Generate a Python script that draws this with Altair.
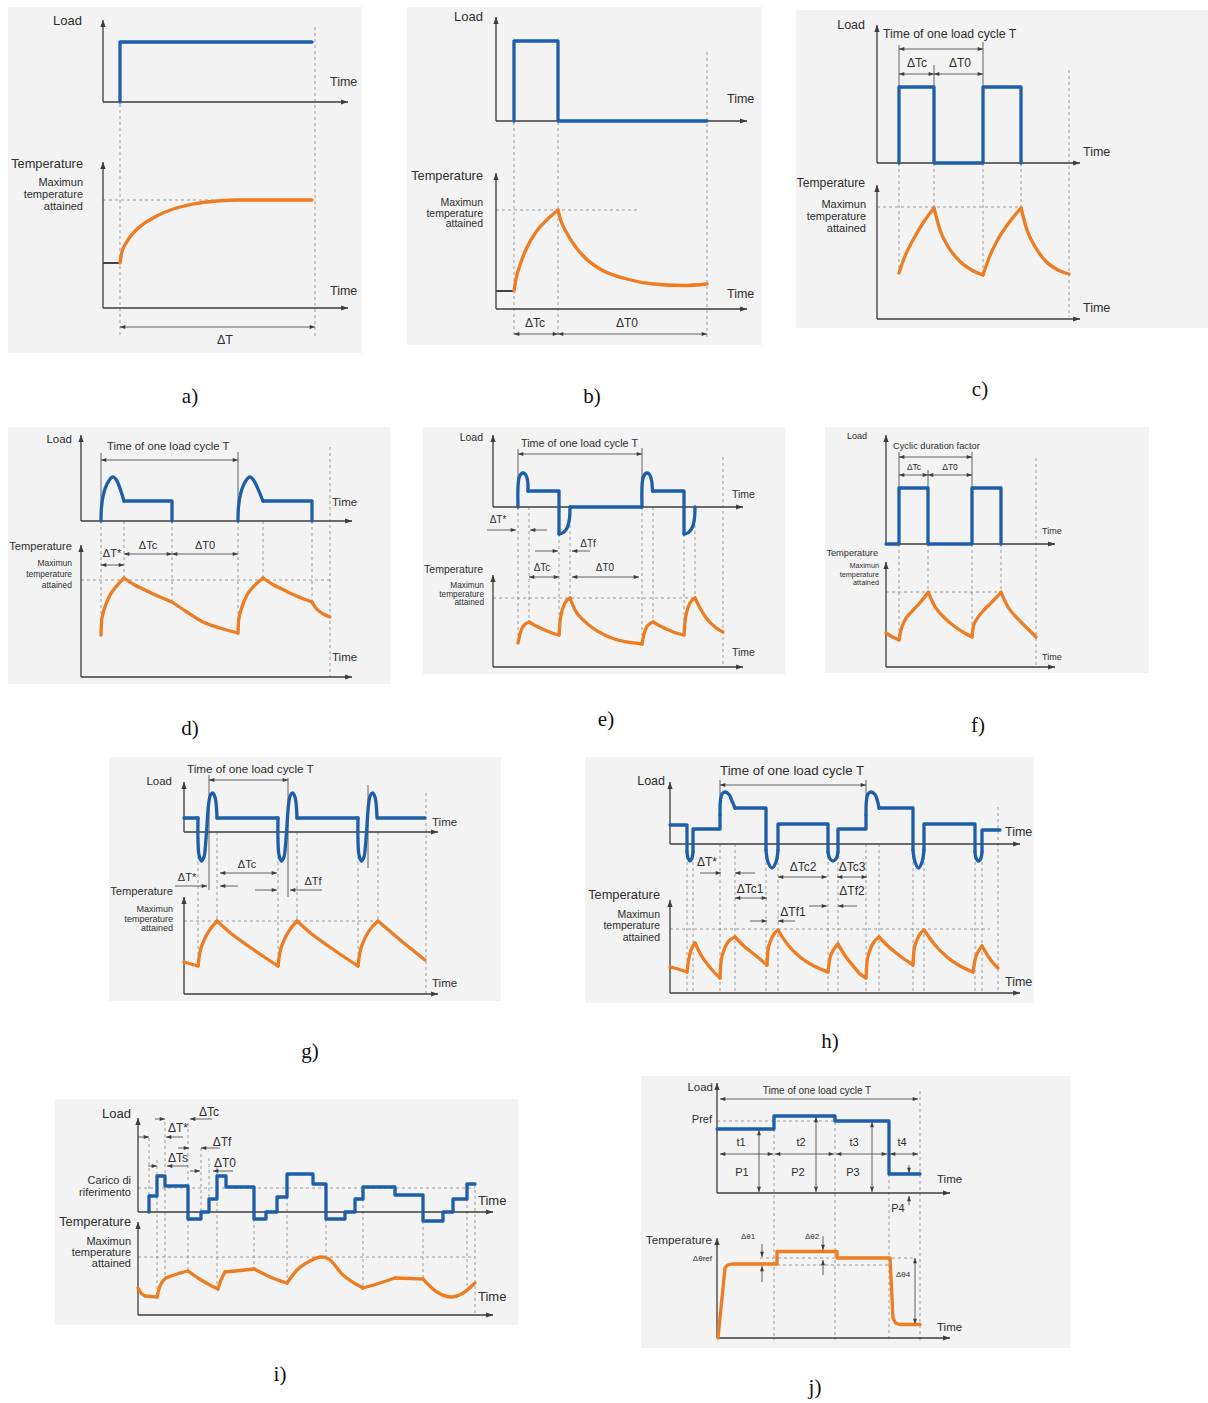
import altair as alt
import pandas as pd

W, H = 1208, 1403

BLUE = "#1d5ea9"
ORANGE = "#ee7c22"
INK = "#3c3c3c"
TEXT = "#2e2e2e"
GUIDE = "#858585"
PANEL_FILL = "#f3f3f3"
SANS = "Liberation Sans"
SERIF = "Liberation Serif"
ARROW = "M0,0L-2,-0.75L-2,0.75Z"   # arrowhead with its tip on the anchor point

# Figure frame: x to the right, y downward, one unit per pixel.
FRAMES = [(8, 7, 362, 353), (407, 7, 762, 345), (796, 10, 1208, 328),
          (8, 427, 390, 684), (423, 427, 785, 674), (825, 427, 1149, 673),
          (109, 757, 501, 1001), (585, 757, 1034, 1003),
          (55, 1099, 518, 1325), (641, 1076, 1070, 1348)]
CAPTIONS = [("a)", 190, 397), ("b)", 592, 397), ("c)", 980, 390),
            ("d)", 190, 729), ("e)", 606, 720), ("f)", 978, 726),
            ("g)", 310, 1052), ("h)", 830, 1042), ("i)", 280, 1375), ("j)", 815, 1388)]
# (origin x, load baseline, load top, temperature baseline, temperature top, right end)
AXES = [(103, 102, 20, 308, 162, 348), (496, 121, 17, 309, 173, 747),
        (877, 163, 25, 319, 185, 1080), (81, 521, 435, 677, 545, 352),
        (493, 507, 435, 667, 575, 743), (886, 544, 435, 667, 562, 1055),
        (184, 832, 782, 994, 897, 438), (670, 844, 782, 993, 900, 1020),
        (138, 1212, 1118, 1315, 1222, 493), (717, 1193, 1083, 1338, 1238, 950)]

# ---------------- a) continuous duty ----------------
A_LOAD = [(120, 102), (120, 42), (312, 42)]
A_TEMP = [[(120, 263), (121.7, 253), (126.7, 242), (133.3, 233), (143.3, 224), (156.7, 216),
           (173.3, 209), (193.3, 204), (216.7, 201), (240, 200), (312, 200)]]
A_STUB = [(103, 120, 263)]
A_VGUIDE = [(120, 104, 338), (315, 27, 338)]
A_HGUIDE = [(200, 103, 312)]
A_DIMS = [(327, 120, 315)]
A_TEXT = [(82, 21, "Load", 13, "r"), (330, 82, "Time", 12.5, "l"),
          (83, 164, "Temperature", 12.8, "r"), (83, 183, "Maximun", 11, "r"),
          (83, 195, "temperature", 11, "r"), (83, 207, "attained", 11, "r"),
          (330, 291, "Time", 12.5, "l"), (225, 340, "ΔT", 12.5, "c")]

# ---------------- b) short-time duty ----------------
B_LOAD = [(514, 121), (514, 41), (558, 41), (558, 121), (707, 121)]
B_TEMP = [[(514, 291), (516, 279), (520, 265), (526.7, 248), (536.7, 231), (546.7, 220), (558, 210)],
          [(558, 210), (561, 221), (566.7, 233), (575, 246), (583.3, 256), (600, 269),
           (626.7, 279), (653.3, 284), (683.3, 285.5), (707, 284)]]
B_STUB = [(496, 514, 291)]
B_VGUIDE = [(514, 122, 337), (558, 122, 337), (707, 52, 337)]
B_HGUIDE = [(210, 496, 640)]
B_DIMS = [(334, 514, 558), (334, 558, 707)]
B_TEXT = [(483, 17, "Load", 13, "r"), (727, 99, "Time", 12.5, "l"),
          (483, 176, "Temperature", 12.8, "r"), (483, 203, "Maximun", 10.5, "r"),
          (483, 214, "temperature", 10.5, "r"), (483, 224, "attained", 10.5, "r"),
          (727, 294, "Time", 12.5, "l"), (535, 323, "ΔTc", 12, "c"), (627, 323, "ΔT0", 12, "c")]

# ---------------- c) intermittent periodic duty ----------------
C_LOAD = [(899, 163), (899, 87), (934, 87), (934, 163), (983, 163), (983, 87), (1021, 87), (1021, 163)]
C_TEMP = [[(899, 273), (905, 256), (913, 240), (923, 223), (934, 208)],
          [(934, 208), (940, 230), (948, 246.5), (960, 261.5), (971.5, 270), (983, 275)],
          [(983, 275), (989, 258), (997, 241), (1008, 224), (1021, 208)],
          [(1021, 208), (1027, 230), (1035, 246.5), (1046, 261.5), (1058, 270), (1069, 274)]]
C_EXT = [(899, 45, 87), (934, 65, 87), (983, 42, 87)]
C_VGUIDE = [(899, 163, 273), (934, 163, 207), (983, 163, 275), (1021, 163, 207), (1069, 70, 317)]
C_HGUIDE = [(207, 877, 1021)]
C_DIMS = [(49, 899, 983), (74, 899, 934), (74, 934, 983)]
C_TEXT = [(865, 25, "Load", 12.5, "r"), (883, 34, "Time of one load cycle T", 12.3, "l"),
          (917, 63, "ΔTc", 12, "c"), (960, 63, "ΔT0", 12, "c"), (1083, 152, "Time", 12.5, "l"),
          (865, 183, "Temperature", 12.2, "r"), (866, 205, "Maximun", 11, "r"),
          (866, 217, "temperature", 11, "r"), (866, 229, "attained", 11, "r"),
          (1083, 308, "Time", 12.5, "l")]

# ---------------- d) periodic duty with starting ----------------
D_LOAD = [[(124, 501), (172, 501), (172, 521)], [(263, 501), (312, 501), (312, 521)]]
D_LOAD_ROUND = [[(101, 521), (101.5, 507), (103.5, 494), (107, 484), (111, 478), (113.5, 477), (116.5, 480), (124, 501)],
                [(238, 521), (238.5, 507), (240.5, 494), (244, 484), (248, 478), (250.5, 477), (253.5, 480), (263, 501)]]
D_TEMP = [[(101, 635), (101.7, 620), (105, 607), (110, 595), (116.7, 586), (124, 578)],
          [(124, 578), (133, 584), (147, 591), (160, 597), (172, 602)],
          [(172, 602), (187, 612), (203, 622), (220, 628), (238, 633)],
          [(238, 633), (238.7, 620), (242, 607), (247, 595), (254, 586), (263, 578)],
          [(263, 578), (272, 584), (286, 591), (299, 597), (312, 602)],
          [(312, 602), (316.7, 609), (323.3, 614), (330, 617)]]
D_EXT = [(101, 453, 521), (238, 452, 521)]
D_VGUIDE = [(101, 521, 633), (124, 521, 578), (172, 521, 602), (238, 521, 633),
            (263, 521, 578), (312, 521, 602), (330, 447, 677)]
D_HGUIDE = [(580, 81, 330)]
D_DIMS = [(460, 101, 238), (565, 101, 124), (554, 124, 172), (554, 172, 238)]
D_TEXT = [(72, 440, "Load", 11.5, "r"), (107, 447, "Time of one load cycle T", 11.3, "l"),
          (332, 503, "Time", 11.5, "l"), (72, 547, "Temperature", 11.2, "r"),
          (112, 554, "ΔT*", 11, "c"), (148, 546, "ΔTc", 11, "c"), (205, 546, "ΔT0", 11, "c"),
          (72, 563, "Maximun", 8.5, "r"), (72, 574, "temperature", 8.5, "r"),
          (72, 585, "attained", 8.5, "r"), (332, 658, "Time", 11.5, "l")]

# ---------------- e) periodic duty with starting and braking ----------------
E_LOAD = [[(528, 491), (559, 491), (559, 534)], [(570, 507), (642, 507)],
          [(652.5, 491), (684, 491), (684, 534)]]
E_LOAD_ROUND = [[(518, 507), (518, 487), (519, 478), (521, 474), (523, 473), (525.5, 474.5), (527.5, 480), (528, 491)],
                [(559, 534), (563.5, 532.5), (567.5, 527), (569.5, 518), (570, 507)],
                [(642, 507), (642, 487), (643, 478), (645, 474), (647, 473), (649.5, 474.5), (651.5, 480), (652.5, 491)],
                [(684, 534), (688.5, 532.5), (692.5, 527), (694.5, 518), (695, 507)]]
E_TEMP = [[(518, 643), (520.3, 633), (523.3, 626), (529, 622)],
          [(529, 622), (536, 626), (545, 630), (552, 633), (559, 635)],
          [(559, 635), (560, 622), (562, 611), (565, 603), (570, 598)],
          [(570, 598), (575, 610), (585, 621.7), (598.3, 631.7), (615, 639.3), (631.7, 642.7), (642, 644)],
          [(642, 644), (644.3, 633), (647.3, 626), (653, 622)],
          [(653, 622), (660, 626), (669, 630), (676, 633), (684, 635)],
          [(684, 635), (685, 622), (687, 611), (690, 603), (695, 598)],
          [(695, 598), (700, 608), (707, 619), (715, 627), (723, 632)]]
E_EXT = [(518, 449, 487), (642, 448, 487)]
E_VGUIDE = [(518, 507, 643), (529, 507, 622), (559, 534, 635), (570, 507, 598), (642, 507, 644),
            (653, 507, 622), (684, 534, 635), (695, 507, 598), (723, 457, 667)]
E_HGUIDE = [(598, 493, 695)]
E_DIMS = [(454, 518, 642), (577, 529, 559), (577, 572, 639)]
E_POINTERS = [(530, 487, 516), (530, 547, 530), (551, 535, 558), (551, 590, 572)]
E_TEXT = [(483, 438, "Load", 10.5, "r"), (521, 444, "Time of one load cycle T", 10.8, "l"),
          (732, 495, "Time", 10.5, "l"), (498, 520, "ΔT*", 10, "c"), (588, 544, "ΔTf", 10, "c"),
          (542, 568, "ΔTc", 10, "c"), (605, 568, "ΔT0", 10, "c"), (483, 570, "Temperature", 10.5, "r"),
          (484, 586, "Maximun", 8.3, "r"), (484, 594.5, "temperature", 8.3, "r"),
          (484, 603, "attained", 8.3, "r"), (732, 653, "Time", 10.5, "l")]

# ---------------- f) cyclic duration factor ----------------
F_LOAD = [(886, 544), (899, 544), (899, 488), (928, 488), (928, 544), (972, 544),
          (972, 488), (1001, 488), (1001, 544)]
F_TEMP = [[(886, 633), (892.5, 637), (899, 640)],
          [(899, 640), (901, 630), (905, 620), (911.7, 611.7), (920, 602.7), (928.3, 592.3)],
          [(928.3, 592.3), (935, 606.7), (945, 618.3), (955, 626.7), (965, 633.3), (972, 637)],
          [(972, 637), (973.3, 626.7), (977.3, 618.3), (984, 610), (992.3, 601.7), (1001, 592.3)],
          [(1001, 592.3), (1008, 607), (1018, 619), (1028, 629), (1036, 637)]]
F_EXT = [(899, 452, 488), (928, 470, 488), (972, 452, 488)]
F_VGUIDE = [(899, 544, 640), (928, 544, 592), (972, 544, 637), (1001, 544, 592), (1036, 458, 667)]
F_HGUIDE = [(592, 886, 1001)]
F_DIMS = [(457, 899, 972), (475, 899, 928), (475, 928, 972)]
F_TEXT = [(867, 436, "Load", 9, "r"), (893, 446, "Cyclic duration factor", 9.3, "l"),
          (914, 467, "ΔTc", 8.5, "c"), (950, 467, "ΔT0", 8.5, "c"), (1042, 531, "Time", 9, "l"),
          (878, 553, "Temperature", 9.2, "r"), (879, 566, "Maximun", 7.3, "r"),
          (879, 574.5, "temperature", 7.3, "r"), (879, 583, "attained", 7.3, "r"),
          (1042, 657, "Time", 9, "l")]

# ---------------- g) reversing duty ----------------
G_LOAD = [[(184, 818), (198, 818)], [(217, 818), (278, 818)], [(297, 818), (358, 818)], [(378, 818), (425, 818)]]
G_PULSE_AT = [198, 278, 358]
G_PULSE = [(0, 818), (0, 840), (1, 855), (3.5, 861), (6, 857), (7.5, 845), (9, 825), (10.5, 805),
           (12.5, 795), (14.7, 793), (17, 797), (18.5, 808), (19, 818)]
G_TEMP = [[(184, 962), (191, 964), (198, 966)],
          [(198, 966), (200, 952), (203.3, 942), (208.3, 932), (217, 921)],
          [(217, 921), (231.7, 934), (248.3, 946), (265, 957.5), (278, 966)],
          [(278, 966), (280, 952), (283.3, 942), (288.3, 932), (297, 921)],
          [(297, 921), (311.7, 934), (328.3, 946), (345, 957.5), (358, 966)],
          [(358, 966), (360, 952), (363.3, 942), (368.3, 932), (378, 921)],
          [(378, 921), (392, 933), (405, 944), (415, 952), (425, 960)]]
G_EXT = [(209, 775, 890), (288, 778, 897), (368, 785, 868)]
G_VGUIDE = [(198, 832, 966), (217, 832, 922), (278, 832, 966), (297, 832, 922),
            (358, 832, 966), (378, 832, 922), (426, 793, 995)]
G_HGUIDE = [(921, 184, 378)]
G_DIMS = [(780, 209, 288), (873, 220, 277)]
G_POINTERS = [(886, 175, 207), (886, 238, 220), (890, 255, 277), (890, 322, 290)]
G_TEXT = [(172, 782, "Load", 11.5, "r"), (187, 769, "Time of one load cycle T", 11.7, "l"),
          (432, 823, "Time", 11.5, "l"), (187, 878, "ΔT*", 11, "c"), (247, 865, "ΔTc", 11, "c"),
          (313, 882, "ΔTf", 11, "c"), (173, 892, "Temperature", 11.2, "r"),
          (173, 909, "Maximun", 9, "r"), (173, 918.5, "temperature", 9, "r"),
          (173, 928, "attained", 9, "r"), (432, 984, "Time", 11.5, "l")]

# ---------------- h) duty with speed changes ----------------
H_LOAD = [[(670, 825), (687, 825), (687, 852)],
          [(693, 852), (693, 829), (720, 829), (720, 815)],
          [(735, 808), (766, 808), (766, 850)],
          [(778, 850), (778, 824), (828, 824), (828, 852)],
          [(838, 852), (838, 829), (866, 829), (866, 815)],
          [(879, 808), (913, 808), (913, 850)],
          [(924, 850), (924, 824), (975, 824), (975, 852)],
          [(982, 852), (982, 830), (1000, 830)]]
H_LOAD_ROUND = [[(687, 852), (688, 858), (690, 861), (692, 858), (693, 852)],
                [(720, 815), (720.5, 800), (722, 794), (725, 792), (729, 794.5), (732, 801), (735, 808)],
                [(766, 850), (768, 862), (772, 868), (776, 862), (778, 850)],
                [(828, 852), (829.5, 858), (833, 861), (836.5, 858), (838, 852)],
                [(866, 815), (866.5, 800), (868, 794), (871, 792), (875, 794.5), (877.5, 801), (879, 808)],
                [(913, 850), (915, 862), (918.5, 868), (922, 862), (924, 850)],
                [(975, 852), (976, 858), (978.5, 861), (981, 858), (982, 852)]]
H_TEMP = [[(670, 967), (678, 969), (687, 972)],
          [(687, 972), (689, 958), (691, 950), (695, 943)],
          [(695, 943), (701, 955), (708, 965), (714, 972), (720, 978)],
          [(720, 978), (721, 962), (724, 950), (728, 942), (735, 937)],
          [(735, 937), (745, 947), (755, 955), (767, 965)],
          [(767, 965), (768, 950), (771, 940), (774, 934), (778, 930)],
          [(778, 930), (788, 945), (800, 957), (814, 966), (828, 972)],
          [(828, 972), (830, 958), (834, 949), (838, 944)],
          [(838, 944), (846, 957), (854, 967), (860, 974), (866, 978)],
          [(866, 978), (867, 962), (870, 950), (874, 942), (879, 937)],
          [(879, 937), (889, 947), (900, 956), (913, 965)],
          [(913, 965), (914, 950), (917, 940), (920, 934), (924, 930)],
          [(924, 930), (935, 945), (947, 957), (960, 966), (973, 972)],
          [(973, 972), (975, 960), (978, 952), (982, 946)],
          [(982, 946), (988, 956), (993, 963), (998, 968)]]
H_EXT = [(720, 780, 815), (866, 780, 815)]
H_VGUIDE = [(x, 844, 992) for x in (687, 693, 720, 735, 766, 778, 828, 838, 866, 879, 913, 924, 975, 982)] + [(998, 807, 992)]
H_HGUIDE = [(929, 670, 990)]
H_DIMS = [(785, 720, 866), (898, 735, 767), (877, 778, 827), (877, 837, 867)]
H_POINTERS = [(873, 700, 721), (873, 755, 735), (921, 750, 767), (921, 795, 778),
              (906, 809, 827), (906, 857, 838)]
H_TEXT = [(665, 781, "Load", 12.5, "r"), (720, 771, "Time of one load cycle T", 13.3, "l"),
          (1005, 832, "Time", 12.5, "l"), (707, 862, "ΔT*", 12, "c"), (750, 889, "ΔTc1", 12, "c"),
          (803, 867, "ΔTc2", 12, "c"), (852, 867, "ΔTc3", 12, "c"), (793, 912, "ΔTf1", 12, "c"),
          (852, 891, "ΔTf2", 12, "c"), (660, 895, "Temperature", 12.8, "r"),
          (660, 915, "Maximun", 10.5, "r"), (660, 926, "temperature", 10.5, "r"),
          (660, 938, "attained", 10.5, "r"), (1005, 982, "Time", 12.5, "l")]

# ---------------- i) non-periodic duty ----------------
I_LOAD = [(149, 1212), (149, 1196), (157, 1196), (157, 1176), (165, 1176), (165, 1186), (188, 1186),
          (188, 1219), (201, 1219), (201, 1212), (209, 1212), (209, 1199), (217, 1199), (217, 1176),
          (226, 1176), (226, 1187), (254, 1187), (254, 1219), (266, 1219), (266, 1212), (277, 1212),
          (277, 1197), (287, 1197), (287, 1174), (313, 1174), (313, 1184), (326, 1184), (326, 1219),
          (345, 1219), (345, 1212), (355, 1212), (355, 1199), (363, 1199), (363, 1187), (395, 1187),
          (395, 1195), (423, 1195), (423, 1221), (443, 1221), (443, 1212), (453, 1212), (453, 1199),
          (467, 1199), (467, 1184), (475, 1184)]
I_TEMP = [[(138, 1288), (141, 1293), (145, 1296)],
          [(145, 1296), (151, 1296.5), (157, 1297)],
          [(157, 1297), (160, 1286), (166, 1278)],
          [(166, 1278), (177, 1274), (188, 1271)],
          [(188, 1271), (198, 1278), (208, 1284), (218, 1289)],
          [(218, 1289), (221, 1280), (225, 1272)],
          [(225, 1272), (240, 1270.5), (254, 1269)],
          [(254, 1269), (262, 1273), (270, 1277), (287, 1283)],
          [(287, 1283), (297, 1270), (310, 1261), (321, 1257), (328, 1258.5), (343, 1275), (363, 1288)],
          [(363, 1288), (380, 1283), (395, 1278)],
          [(395, 1278), (410, 1278.5), (423, 1279)],
          [(423, 1279), (437, 1292), (452, 1297), (463, 1293), (475, 1283)]]
I_VGUIDE = [(149, 1138, 1212), (157, 1160, 1297), (165, 1122, 1278), (188, 1123, 1271),
            (201, 1148, 1219), (209, 1158, 1212), (217, 1167, 1289), (254, 1219, 1269),
            (287, 1197, 1283), (326, 1219, 1258), (363, 1199, 1288), (423, 1221, 1279),
            (467, 1199, 1293), (475, 1184, 1315)]
I_HGUIDE = [(1188, 138, 475), (1257, 138, 475)]
I_POINTERS = [(1137, 138, 149), (1119, 155, 165), (1119, 212, 190), (1137, 183, 166),
              (1148, 178, 189), (1148, 220, 201), (1166, 148, 157), (1166, 188, 167),
              (1171, 190, 200), (1171, 233, 213)]
I_TEXT = [(131, 1114, "Load", 13, "r"), (209, 1112, "ΔTc", 12, "c"), (178, 1128, "ΔT*", 12, "c"),
          (222, 1142, "ΔTf", 12, "c"), (178, 1158, "ΔTs", 12, "c"), (225, 1163, "ΔT0", 12, "c"),
          (131, 1181, "Carico di", 11, "r"), (131, 1193, "riferimento", 11, "r"),
          (478, 1201, "Time", 13, "l"), (131, 1222, "Temperature", 12.8, "r"),
          (131, 1242, "Maximun", 11, "r"), (131, 1253, "temperature", 11, "r"),
          (131, 1264, "attained", 11, "r"), (478, 1297, "Time", 13, "l")]

# ---------------- j) duty with discrete constant loads ----------------
J_LOAD = [(717, 1129), (774, 1129), (774, 1116), (835, 1116), (835, 1121), (889, 1121), (889, 1174), (920, 1174)]
J_TEMP = [(718, 1338), (725, 1268), (727.5, 1265), (732, 1264), (777, 1264), (777, 1251.5),
          (837, 1251.5), (837, 1258), (890, 1258), (893, 1318), (895.5, 1323), (900, 1324.5), (920, 1324.5)]
J_VGUIDE = [(774, 1129, 1340), (835, 1116, 1340), (889, 1174, 1340), (920, 1091, 1340)]
J_HGUIDE = [(1121, 717, 888), (1258, 760, 915), (1265, 777, 889)]
J_DIMS = [(1099, 720, 918), (1154, 720, 773), (1154, 775, 834), (1154, 836, 887), (1154, 890, 918)]
J_VDIMS = [(759, 1130, 1192), (816, 1117, 1192), (872, 1122, 1192), (915, 1258, 1324)]
J_VPOINTERS = [(909, 1165, 1173), (909, 1205, 1196), (762, 1244, 1257), (762, 1282, 1266),
               (823, 1236, 1250), (823, 1275, 1260)]
J_TEXT = [(713, 1088, "Load", 11.5, "r"), (817, 1091, "Time of one load cycle T", 10, "c"),
          (712, 1120, "Pref", 11, "r"), (741, 1143, "t1", 11, "c"), (801, 1143, "t2", 11, "c"),
          (854, 1143, "t3", 11, "c"), (902, 1143, "t4", 11, "c"), (742, 1173, "P1", 11, "c"),
          (798, 1173, "P2", 11, "c"), (853, 1173, "P3", 11, "c"), (898, 1209, "P4", 11, "c"),
          (937, 1180, "Time", 11.5, "l"), (712, 1240, "Temperature", 11.8, "r"),
          (748, 1237, "Δθ1", 8, "c"), (812, 1237, "Δθ2", 8, "c"), (712, 1259, "Δθref", 8, "r"),
          (903, 1275, "Δθ4", 8, "c"), (937, 1328, "Time", 11.5, "l")]

# ---------------------------------------------------------------------------
# Assemble drawing tables
paths = {"load": [], "load_round": [], "temp": [], "temp_sharp": []}
rules = {"axis": [], "guide": [], "fine": [], "stub": []}
heads, texts = [], []
_gid = [0]


def path(kind, pts):
    _gid[0] += 1
    for i, (x, y) in enumerate(pts):
        paths[kind].append({"g": _gid[0], "i": i, "x": x, "y": y})


def rule(kind, x1, y1, x2, y2):
    rules[kind].append({"x": x1, "y": y1, "x2": x2, "y2": y2})


def head(x, y, ang, size=28):
    heads.append({"x": x, "y": y, "ang": ang, "s": size})


def hdim(y, x1, x2):
    rule("fine", x1, y, x2, y)
    head(x1, y, 180)
    head(x2, y, 0)


def vdim(x, y1, y2):
    rule("fine", x, y1, x, y2)
    head(x, y1, 270)
    head(x, y2, 90)


def hpointer(y, tail, tip):
    rule("fine", tail, y, tip, y)
    head(tip, y, 0 if tip > tail else 180)


def vpointer(x, tail, tip):
    rule("fine", x, tail, x, tip)
    head(x, tip, 90 if tip > tail else 270)


for x0, ly, ltop, ty, ttop, right in AXES:
    for base, top in ((ly, ltop), (ty, ttop)):
        rule("axis", x0, base, x0, top)
        head(x0, top, 270, 48)
        rule("axis", x0, base, right, base)
        head(right, base, 0, 48)

for p in (A_LOAD, B_LOAD, C_LOAD, F_LOAD, I_LOAD, J_LOAD):
    path("load", p)
for group in (D_LOAD, E_LOAD, G_LOAD, H_LOAD):
    for p in group:
        path("load", p)
for group in (D_LOAD_ROUND, E_LOAD_ROUND, H_LOAD_ROUND):
    for p in group:
        path("load_round", p)
for start in G_PULSE_AT:
    path("load_round", [(start + dx, y) for dx, y in G_PULSE])
for group in (A_TEMP, B_TEMP, C_TEMP, D_TEMP, E_TEMP, F_TEMP, G_TEMP, H_TEMP, I_TEMP):
    for p in group:
        path("temp", p)
path("temp_sharp", J_TEMP)

for x1, x2, y in A_STUB + B_STUB:
    rule("stub", x1, y, x2, y)
for group in (A_VGUIDE, B_VGUIDE, C_VGUIDE, D_VGUIDE, E_VGUIDE, F_VGUIDE, G_VGUIDE, H_VGUIDE, I_VGUIDE, J_VGUIDE):
    for x, y1, y2 in group:
        rule("guide", x, y1, x, y2)
for group in (A_HGUIDE, B_HGUIDE, C_HGUIDE, D_HGUIDE, E_HGUIDE, F_HGUIDE, G_HGUIDE, H_HGUIDE, I_HGUIDE, J_HGUIDE):
    for y, x1, x2 in group:
        rule("guide", x1, y, x2, y)
for group in (C_EXT, D_EXT, E_EXT, F_EXT, G_EXT, H_EXT):
    for x, y1, y2 in group:
        rule("fine", x, y1, x, y2)
for group in (A_DIMS, B_DIMS, C_DIMS, D_DIMS, E_DIMS, F_DIMS, G_DIMS, H_DIMS, J_DIMS):
    for y, x1, x2 in group:
        hdim(y, x1, x2)
for x, y1, y2 in J_VDIMS:
    vdim(x, y1, y2)
for group in (E_POINTERS, G_POINTERS, H_POINTERS, I_POINTERS):
    for y, tail, tip in group:
        hpointer(y, tail, tip)
for x, tail, tip in J_VPOINTERS:
    vpointer(x, tail, tip)

ALIGN = {"l": "left", "c": "center", "r": "right"}
for group in (A_TEXT, B_TEXT, C_TEXT, D_TEXT, E_TEXT, F_TEXT, G_TEXT, H_TEXT, I_TEXT, J_TEXT):
    for x, y, t, fs, a in group:
        texts.append({"x": x, "y": y, "t": t, "fs": fs, "a": ALIGN[a]})

# ---------------------------------------------------------------------------
XS = alt.Scale(domain=[0, W], nice=False, zero=False)
YS = alt.Scale(domain=[0, H], reverse=True, nice=False, zero=False)


def pos():
    return dict(x=alt.X("x:Q", scale=XS, axis=None), y=alt.Y("y:Q", scale=YS, axis=None))


frames = pd.DataFrame([{"x": l, "y": t, "x2": r, "y2": b} for l, t, r, b in FRAMES])
layers = [alt.Chart(frames).mark_rect(color=PANEL_FILL).encode(**pos(), x2="x2:Q", y2="y2:Q")]

rule_styles = {
    "guide": dict(color=GUIDE, strokeWidth=0.8, strokeDash=[3, 3]),
    "fine": dict(color=INK, strokeWidth=0.8),
    "axis": dict(color=INK, strokeWidth=1.3),
    "stub": dict(color="#444444", strokeWidth=2),
}
for kind, style in rule_styles.items():
    layers.append(alt.Chart(pd.DataFrame(rules[kind])).mark_rule(**style)
                  .encode(**pos(), x2="x2:Q", y2="y2:Q"))

line_styles = {
    "load": (BLUE, "linear"),
    "load_round": (BLUE, "catmull-rom"),
    "temp": (ORANGE, "monotone"),
    "temp_sharp": (ORANGE, "linear"),
}
for kind, (color, interp) in line_styles.items():
    layers.append(alt.Chart(pd.DataFrame(paths[kind])).mark_line(
        color=color, strokeWidth=3.3, interpolate=interp, strokeCap="round", strokeJoin="round")
        .encode(**pos(), detail="g:N", order="i:Q"))

layers.append(alt.Chart(pd.DataFrame(heads)).mark_point(
    shape=ARROW, filled=True, color=INK, opacity=1, strokeWidth=0)
    .encode(**pos(), angle=alt.Angle("ang:Q", scale=None), size=alt.Size("s:Q", scale=None)))

tdf = pd.DataFrame(texts)
for a in ("left", "center", "right"):
    layers.append(alt.Chart(tdf[tdf.a == a]).mark_text(
        align=a, baseline="middle", font=SANS, color=TEXT)
        .encode(**pos(), text="t:N", size=alt.Size("fs:Q", scale=None)))

caps = pd.DataFrame([{"t": t, "x": x, "y": y} for t, x, y in CAPTIONS])
layers.append(alt.Chart(caps).mark_text(
    align="center", baseline="middle", font=SERIF, fontSize=21, color="#111111")
    .encode(**pos(), text="t:N"))

chart = alt.layer(*layers).properties(
    width=W, height=H, padding=0, background="white",
    autosize=alt.AutoSizeParams(type="none"),
).configure_view(stroke=None)

chart.save("out.html", embed_options={"renderer": "svg", "actions": False})
